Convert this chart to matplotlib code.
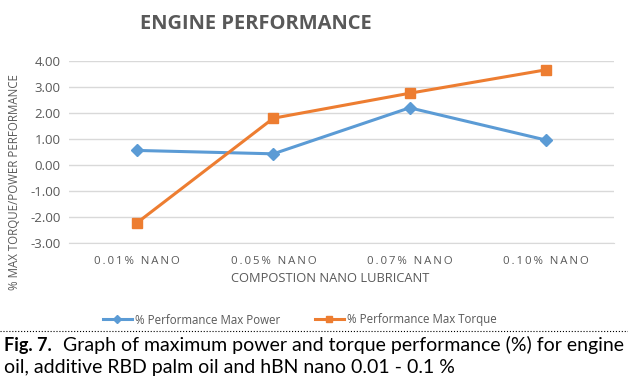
import numpy as np
import matplotlib.pyplot as plt
from matplotlib.lines import Line2D

# data
categories = ['0.01% NANO', '0.05% NANO', '0.07% NANO', '0.10% NANO']
power = [0.56, 0.43, 2.20, 0.96]
torque = [-2.22, 1.80, 2.76, 3.66]
yticks = [-3, -2, -1, 0, 1, 2, 3, 4]

W, H = 628, 379
blue = '#5B9BD5'
orange = '#ED7D31'
grey = '#595959'

def spaced(s):
    # excel style letter spacing on the category labels
    return '\u2009'.join(s)

fig = plt.figure(figsize=(W / 100, H / 100), dpi=100, facecolor='white')

# plot area in pixels
x0, x1, ytop, ybot = 69, 614, 61, 243
ax = fig.add_axes([x0 / W, 1 - ybot / H, (x1 - x0) / W, (ybot - ytop) / H])

x = np.arange(len(categories))
ax.plot(x, power, color=blue, lw=2.2, marker='D', ms=6, label='% Performance Max Power')
ax.plot(x, torque, color=orange, lw=2.2, marker='s', ms=6.5, label='% Performance Max Torque')

ax.set_xlim(-0.5, len(categories) - 0.5)
ax.set_ylim(-3, 4)
ax.set_yticks(yticks)
ax.set_yticklabels(['%.2f' % v for v in yticks], fontsize=9.5, color=grey, family='Open Sans')
ax.set_xticks(x)
ax.set_xticklabels([spaced(c) for c in categories], fontsize=8.2, color=grey, family='Open Sans')
ax.grid(axis='y', color='#d9d9d9', lw=1)
ax.set_axisbelow(True)
for s in ['left', 'right', 'top']:
    ax.spines[s].set_visible(False)
ax.spines['bottom'].set_color('#d9d9d9')
ax.tick_params(length=0, pad=9)
ax.tick_params(axis='y', pad=6)

fig.text(330 / W, 1 - 279 / H, 'COMPOSTION NANO LUBRICANT', ha='center', va='center',
         fontsize=9.3, color=grey, family='Open Sans')

fig.text(15 / W, 1 - 182 / H, '% MAX TORQUE/POWER PERFORMANCE', rotation=90, ha='center', va='center',
         fontsize=8.3, color=grey, family='Open Sans')

fig.text(256 / W, 1 - 24 / H, 'ENGINE PERFORMANCE', ha='center', va='center', fontsize=14.5,
         fontweight='bold', color=grey, family='Open Sans')

# legend
handles = [Line2D([], [], color=blue, lw=2.2, marker='D', ms=4.5),
           Line2D([], [], color=orange, lw=2.2, marker='s', ms=5)]
fig.legend(handles, ['% Performance Max Power', '% Performance Max Torque'], loc='center',
           bbox_to_anchor=(300 / W, 1 - 320 / H), ncol=2, frameon=False,
           prop={'family': 'Open Sans', 'size': 8.3}, handlelength=2.5, columnspacing=3,
           handletextpad=0.3, labelcolor=grey)

# dotted separator and caption
fig.add_artist(Line2D([0, 1], [1 - 331 / H, 1 - 331 / H], color='black', lw=0.8, ls=':'))
fig.text(4 / W, 1 - 345 / H, 'Fig. 7.', fontsize=13, fontweight='bold', family='Lato', va='center')
fig.text(63 / W, 1 - 345 / H, 'Graph of maximum power and torque performance (%) for engine',
         fontsize=14, family='Lato', va='center')
fig.text(4 / W, 1 - 368 / H, 'oil, additive RBD palm oil and hBN nano 0.01 - 0.1 %',
         fontsize=14, family='Lato', va='center')

fig.savefig('out.png', dpi=100)
